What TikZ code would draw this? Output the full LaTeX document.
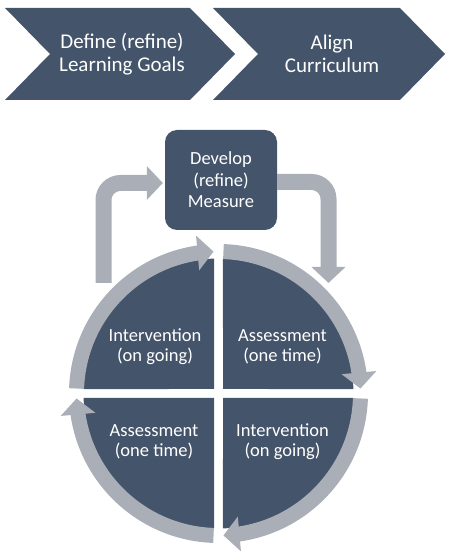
\documentclass[tikz,border=0pt]{standalone}
\usepackage{fontspec}
\setmainfont{Carlito}
\usepackage{xcolor}
\usetikzlibrary{positioning,calc,arrows.meta,bending}
\definecolor{slate}{RGB}{68,84,106}
\definecolor{ringgray}{RGB}{170,174,183}
\tikzset{
chevron/.style={fill=slate},
txt/.style={text=white, align=center, inner sep=0pt, font=\fontsize{18.5}{20}\selectfont},
chevtxt/.style={txt, font=\fontsize{21}{22.5}\selectfont},
measurebox/.style={fill=slate, rounded corners=12pt, minimum width=112pt, minimum height=100pt, text=white, align=center, font=\fontsize{18.5}{21.5}\selectfont},
quad/.style={fill=slate},
ring/.style={draw=ringgray, line width=15pt, -{Triangle[width=34pt,length=16pt]}},
feedback/.style={draw=ringgray, line width=16pt, rounded corners=17pt, -{Triangle[width=33pt,length=16pt]}}
}

\begin{document}
\begin{tikzpicture}[x=1pt,y=1pt]
\useasboundingbox (0,0) rectangle (450,555);
\coordinate (C) at (218.5,161.5);
\coordinate (lstart) at (103.5,272);
\coordinate (rend) at (328.5,272);

\fill[chevron] (5,547) -- (190,547) -- (235,501) -- (190,455) -- (5,455) -- (50,501) -- cycle;
\fill[chevron] (213,547) -- (400,547) -- (445,501) -- (400,455) -- (213,455) -- (258,501) -- cycle;
\node[chevtxt] (goals) at (122,501) {Define (refine)\\Learning Goals};
\node[chevtxt] (curriculum) at (332,501) {Align\\Curriculum};

\node[measurebox] (measure) at (221,375) {Develop\\(refine)\\Measure};

\foreach \a in {0,90,180,270}{
	\fill[quad] ($(C)+(\a+45:6.364)$) -- ($(C)+(\a+1.91:135)$) arc[start angle=\a+1.91, end angle=\a+88.09, radius=135] -- cycle;
}
\foreach \a in {0,90,180,270}{
	\draw[ring] ($(C)+(\a+88:142)$) arc[start angle=\a+88, end angle=\a+2, radius=142];
}

\draw[feedback, shorten >=2pt] (lstart) |- ([yshift=-3pt]measure.west);
\draw[feedback] ([yshift=-2pt]measure.east) -| (rend);

\node[txt] (ongoing1) at ($(C)+(-63.5,46.5)$) {Intervention\\(on going)};
\node[txt] (onetime1) at ($(C)+(64,46.5)$) {Assessment\\(one time)};
\node[txt] (ongoing2) at ($(C)+(64,-48)$) {Intervention\\(on going)};
\node[txt] (onetime2) at ($(C)+(-64.5,-48)$) {Assessment\\(one time)};
\end{tikzpicture}
\end{document}
